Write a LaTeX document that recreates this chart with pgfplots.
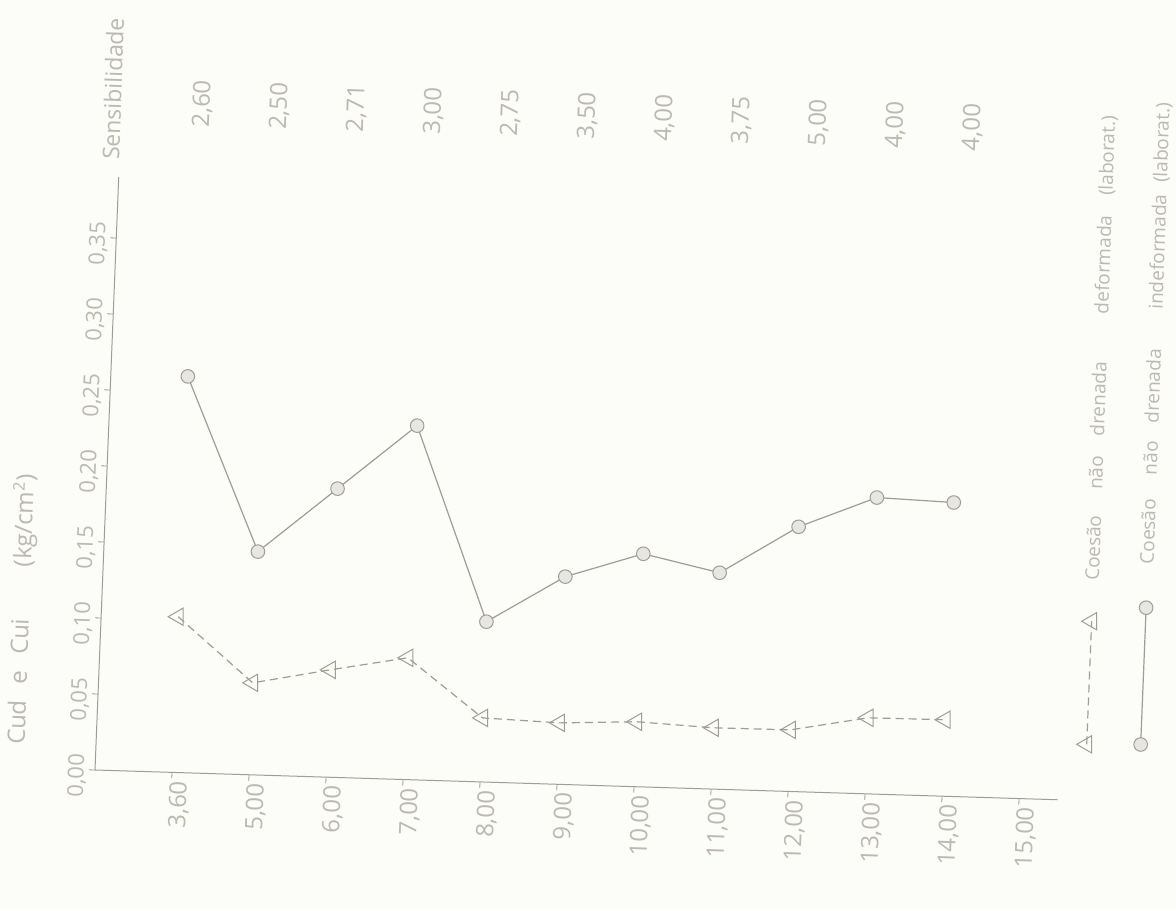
\documentclass[border=0pt]{standalone}
\usepackage{pgfplots}
\usepackage{pgfplotstable}
\pgfplotsset{compat=1.18}
\usepackage{fontspec}
\setmainfont{Open Sans}
\definecolor{ink}{RGB}{188,185,176}
\definecolor{lin}{RGB}{160,157,148}
\definecolor{paper}{RGB}{252,252,248}

% sample points, depth index 1..11 (3,60 m ... 14,00 m)
\pgfplotstableread{
i   cud
1   0.1024
2   0.0605
3   0.0706
4   0.0801
5   0.0421
6   0.0404
7   0.0427
8   0.0403
9   0.0405
10  0.0500
11  0.0503
}\deformada
\pgfplotstableread{
i   cui
1   0.2605
2   0.1468
3   0.1898
4   0.2328
5   0.1054
6   0.1366
7   0.1532
8   0.1423
9   0.1741
10  0.1949
11  0.1932
}\indeformada

\begin{document}
\begin{tikzpicture}
\path[fill=paper, use as bounding box] (0,0) rectangle (588pt,455pt);
\begin{axis}[
  at={(47.5pt,70pt)}, anchor=origin,
  x={(38.5pt,-1.19pt)}, y={(30.4pt,760pt)},
  xmin=0, xmax=12.5, ymin=0, ymax=0.39,
  axis lines=left,
  axis line style={-, lin, line width=0.5pt},
  clip=false,
  tick align=outside,
  major tick length=3pt,
  tick style={lin, line width=0.4pt},
  xtick={1,2,3,4,5,6,7,8,9,10,11,12},
  xticklabels={{3,60},{5,00},{6,00},{7,00},{8,00},{9,00},{10,00},{11,00},{12,00},{13,00},{14,00},{15,00}},
  ytick={0,0.05,0.1,0.15,0.2,0.25,0.3,0.35},
  yticklabels={{0,00},{0,05},{0,10},{0,15},{0,20},{0,25},{0,30},{0,35}},
  xticklabel style={rotate=88, anchor=east, text=ink, font=\fontsize{12}{14}\selectfont, inner sep=1pt, yshift=-4pt},
  yticklabel style={rotate=88, anchor=south, text=ink, font=\fontsize{11}{13}\selectfont, inner sep=1pt, xshift=-3pt},
]
% undrained cohesion, remoulded (laboratory)
\addplot[lin, line width=0.6pt, dash pattern=on 4pt off 2.5pt,
  mark=triangle, mark size=5pt,
  mark options={solid, rotate=90, fill=paper, draw=lin, line width=0.5pt}]
  table[x=i, y=cud] {\deformada};
% undrained cohesion, undisturbed (laboratory)
\addplot[lin, line width=0.6pt, solid,
  mark=*, mark size=3.4pt,
  mark options={fill=ink!35, draw=lin, line width=0.5pt}]
  table[x=i, y=cui] {\indeformada};

% legend samples
\addplot[lin, line width=0.6pt, dash pattern=on 4pt off 2.5pt,
  mark=triangle, mark size=5pt,
  mark options={solid, rotate=90, fill=paper, draw=lin, line width=0.5pt}]
  coordinates {(12.85,0.037) (12.85,0.118)};
\addplot[lin, line width=0.6pt, solid,
  mark=*, mark size=3.4pt,
  mark options={fill=ink!35, draw=lin, line width=0.5pt}]
  coordinates {(13.55,0.038) (13.55,0.128)};

\begin{scope}[every node/.style={text=ink, rotate=88}]
\node[anchor=west, font=\fontsize{9.5}{11}\selectfont] at (axis cs:12.85,0.14)
  {Coesão\hspace{13pt}não\hspace{10pt}drenada\hspace{24pt}deformada\hspace{10pt}(laborat.)};
\node[anchor=west, font=\fontsize{9.5}{11}\selectfont] at (axis cs:13.55,0.152)
  {Coesão\hspace{12pt}não\hspace{9pt}drenada\hspace{20pt}indeformada\hspace{6pt}(laborat.)};

% sensitivity column
\node[font=\fontsize{11.5}{13}\selectfont] at (axis cs:-0.12,0.448) {Sensibilidade};
\node[font=\fontsize{12}{14}\selectfont] at (axis cs:1.05,0.44) {2,60};
\node[font=\fontsize{12}{14}\selectfont] at (axis cs:2.05,0.44) {2,50};
\node[font=\fontsize{12}{14}\selectfont] at (axis cs:3.05,0.44) {2,71};
\node[font=\fontsize{12}{14}\selectfont] at (axis cs:4.05,0.44) {3,00};
\node[font=\fontsize{12}{14}\selectfont] at (axis cs:5.05,0.44) {2,75};
\node[font=\fontsize{12}{14}\selectfont] at (axis cs:6.05,0.44) {3,50};
\node[font=\fontsize{12}{14}\selectfont] at (axis cs:7.05,0.44) {4,00};
\node[font=\fontsize{12}{14}\selectfont] at (axis cs:8.05,0.44) {3,75};
\node[font=\fontsize{12}{14}\selectfont] at (axis cs:9.05,0.44) {5,00};
\node[font=\fontsize{12}{14}\selectfont] at (axis cs:10.05,0.44) {4,00};
\node[font=\fontsize{12}{14}\selectfont] at (axis cs:11.05,0.44) {4,00};

% quantity and unit
\node[font=\fontsize{12}{14}\selectfont] at (axis cs:-1.03,0.104)
  {Cud\hspace{8pt}e\hspace{8pt}Cui\hspace{26pt}(kg/cm\textsuperscript{2})};
\end{scope}
\end{axis}
\end{tikzpicture}
\end{document}
